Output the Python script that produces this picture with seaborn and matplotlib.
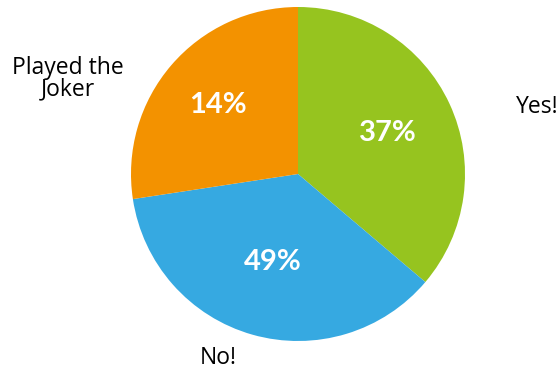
import matplotlib
matplotlib.use("Agg")
import matplotlib.pyplot as plt
import seaborn as sns
import numpy as np

categories = ["Yes!", "No!", "Played the\nJoker"]
values = [36.2, 36.4, 27.4]
pct_labels = ["37%", "49%", "14%"]
colors = ["#96C41F", "#36A9E1", "#F39200"]

sns.set_theme(style="white")
plt.rcParams["font.family"] = ["Open Sans", "DejaVu Sans"]

W, H = 560, 371
fig = plt.figure(figsize=(W / 100, H / 100), dpi=100)
cx, cy, r = 298, 174, 167
ax = fig.add_axes([(cx - r) / W, (H - cy - r) / H, 2 * r / W, 2 * r / H])

pal = sns.color_palette(colors)
wedges, _ = ax.pie(values, colors=pal, startangle=90, counterclock=False,
                   wedgeprops=dict(linewidth=0))
ax.set_xlim(-1, 1)
ax.set_ylim(-1, 1)
ax.set_axis_off()

# percentage labels inside wedges
pct_dist = [0.59, 0.55, 0.63]
for w, lab, d in zip(wedges, pct_labels, pct_dist):
    mid = np.deg2rad((w.theta1 + w.theta2) / 2)
    ax.text(d * np.cos(mid), d * np.sin(mid), lab, color="white",
            fontsize=21, fontweight="bold", ha="center", va="center",
            family=["Lato", "DejaVu Sans"])

# outer category labels
label_pos = [(1.43, 0.40), (-0.48, -1.10), (-1.38, 0.57)]
for (x, y), lab in zip(label_pos, categories):
    ax.text(x, y, lab, fontsize=16.5, color="#000000", ha="center",
            va="center", linespacing=0.82, clip_on=False)

fig.savefig("out.png", dpi=100, facecolor="white")
